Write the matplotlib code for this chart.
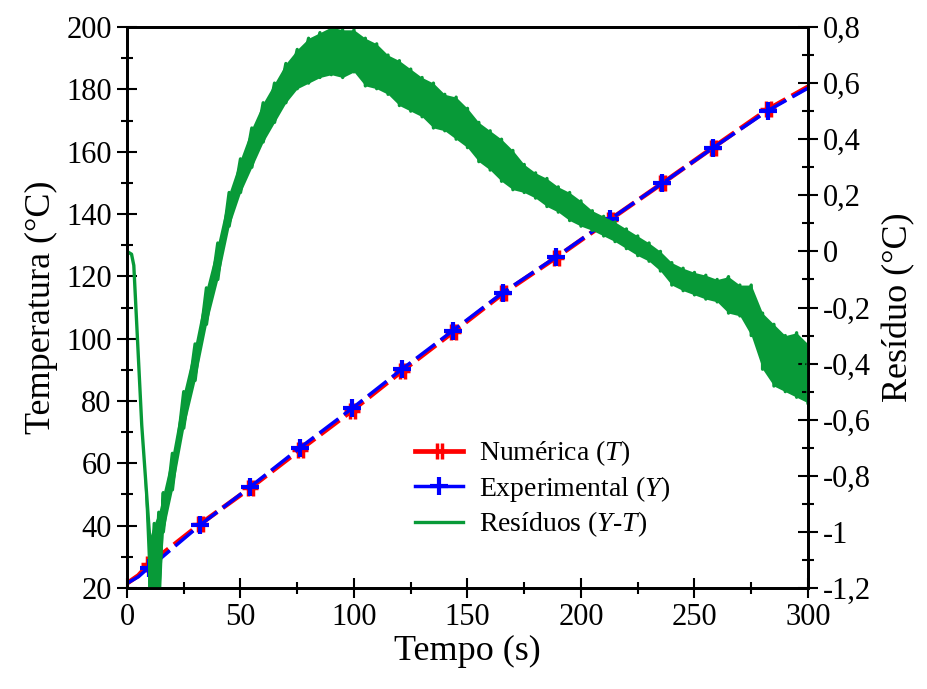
import matplotlib.pyplot as plt
from matplotlib.path import Path
from matplotlib.lines import Line2D
from matplotlib.ticker import MultipleLocator, FuncFormatter

plt.rcParams['font.family'] = ['Liberation Serif', 'DejaVu Serif']
plt.rcParams['mathtext.fontset'] = 'custom'
plt.rcParams['mathtext.rm'] = 'Liberation Serif'
plt.rcParams['mathtext.it'] = 'Liberation Serif:italic'
plt.rcParams['lines.scale_dashes'] = False

# temperaturas (curva experimental e numerica)
tempo = [0, 5, 9.5, 15, 20, 32.2, 54.2, 76.2, 99.1, 121.1, 143.6, 165.6,
         189, 212.8, 235.7, 258.1, 282.4, 300]
experimental = [21.5, 23.6, 26.5, 29.6, 32.7, 40.2, 52.4, 65.0, 77.6, 90.2,
                102.6, 114.8, 126.2, 138.3, 149.8, 161.2, 173.2, 180.4]
numerica = [21.5, 24.0, 27.6, 30.7, 33.5, 40.5, 52.05, 64.35, 76.9, 89.6,
            102.1, 114.5, 126.0, 138.2, 149.8, 161.3, 173.6, 180.8]
marcadores = [2, 5, 6, 7, 8, 9, 10, 11, 12, 13, 14, 15, 16]

# residuos Y-T: limites superior / inferior da faixa de ruido
t_res = [0, 2, 3, 6.5, 10, 12, 14, 16, 20, 25, 30, 35, 40, 45, 50, 55, 60,
         65, 70, 75, 80, 85, 90, 95, 100, 105, 110, 115, 120, 125, 130, 135,
         140, 145, 150, 155, 160, 165, 170, 175, 180, 185, 190, 195, 200, 205,
         210, 215, 220, 225, 230, 235, 240, 245, 250, 255, 260, 265, 270, 275,
         280, 285, 290, 295, 300]
res_sup = [0, -0.01, -0.05, -0.62, -1.02, -0.97, -0.93, -0.86, -0.72, -0.50,
           -0.33, -0.13, 0.03, 0.21, 0.33, 0.44, 0.53, 0.60, 0.67, 0.72,
           0.76, 0.78, 0.80, 0.79, 0.79, 0.76, 0.74, 0.70, 0.68, 0.65, 0.62,
           0.60, 0.56, 0.55, 0.51, 0.46, 0.43, 0.40, 0.36, 0.31, 0.28, 0.26,
           0.23, 0.21, 0.18, 0.145, 0.125, 0.105, 0.08, 0.055, 0.03, 0.0,
           -0.04, -0.06, -0.075, -0.085, -0.10, -0.09, -0.12, -0.12, -0.22,
           -0.26, -0.30, -0.29, -0.33]
res_inf = [0, -0.01, -0.05, -0.62, -1.30, -1.30, -1.28, -1.00, -0.85, -0.63,
           -0.46, -0.26, -0.10, 0.09, 0.21, 0.30, 0.39, 0.46, 0.53, 0.58,
           0.60, 0.62, 0.63, 0.62, 0.64, 0.59, 0.58, 0.56, 0.52, 0.50, 0.48,
           0.44, 0.43, 0.40, 0.37, 0.32, 0.29, 0.25, 0.22, 0.21, 0.19, 0.16,
           0.14, 0.11, 0.09, 0.075, 0.055, 0.035, 0.01, -0.015, -0.035, -0.07,
           -0.12, -0.14, -0.155, -0.17, -0.18, -0.22, -0.23, -0.30, -0.42,
           -0.48, -0.50, -0.52, -0.54]

VERDE = '#089a38'

# marcador "duas barras" da curva numerica
marc_num = Path([(-1, 0), (1, 0), (-0.3, -1), (-0.3, 1), (0.3, -1), (0.3, 1)],
                [Path.MOVETO, Path.LINETO, Path.MOVETO, Path.LINETO,
                 Path.MOVETO, Path.LINETO])

fig = plt.figure(figsize=(9.27, 6.89), dpi=100)
ax = fig.add_axes([0.137, 0.1466, 0.7346, 0.8142])
ax2 = ax.twinx()

ax.plot(tempo, numerica, color='red', lw=3.4, dashes=(17, 5),
        marker=marc_num, markevery=marcadores, ms=12, mew=2.5)
ax.plot(tempo, experimental, color='blue', lw=2.5, dashes=(17, 5),
        marker='+', markevery=marcadores, ms=13, mew=3)

# linha do residuo alternando entre topo e fundo da faixa
xs, ys = [], []
for t, s, i in zip(t_res, res_sup, res_inf):
    xs += [t, t]
    ys += [s, i]
ax2.fill_between(t_res, res_inf, res_sup, color=VERDE, lw=0)
ax2.plot(xs, ys, color=VERDE, lw=2.4)

ax.set_xlim(0, 300)
ax.set_ylim(20, 200)
ax2.set_ylim(-1.2, 0.8)

ax.xaxis.set_major_locator(MultipleLocator(50))
ax.xaxis.set_minor_locator(MultipleLocator(25))
ax.yaxis.set_major_locator(MultipleLocator(20))
ax.yaxis.set_minor_locator(MultipleLocator(10))
ax2.yaxis.set_major_locator(MultipleLocator(0.2))
ax2.yaxis.set_minor_locator(MultipleLocator(0.1))


def virgula(v, pos):
    return ('%g' % round(v, 1)).replace('.', ',')


ax2.yaxis.set_major_formatter(FuncFormatter(virgula))

for a in (ax, ax2):
    a.tick_params(which='major', direction='inout', length=15, width=1.5,
                  labelsize=22)
    a.tick_params(which='minor', direction='inout', length=8, width=1.5)
    for sp in a.spines.values():
        sp.set_linewidth(2)

ax.set_xlabel('Tempo (s)', fontsize=26, labelpad=2)
ax.set_ylabel('Temperatura (°C)', fontsize=26, labelpad=6)
ax2.set_ylabel('Resíduo (°C)', fontsize=26, labelpad=8)

# legenda com linhas continuas
h1 = Line2D([], [], color='red', lw=3.4, marker=marc_num, ms=12, mew=2.5)
h2 = Line2D([], [], color='blue', lw=2.5, marker='+', ms=13, mew=3)
h3 = Line2D([], [], color=VERDE, lw=2.4)
ax2.legend([h1, h2, h3],
           ['Numérica ($T$)', 'Experimental ($Y$)', 'Resíduos ($Y$-$T$)'],
           loc='upper left', bbox_to_anchor=(0.386, 0.311), frameon=False,
           fontsize=20, handlelength=1.75, handletextpad=0.55,
           labelspacing=0.2)

fig.savefig('out.png', dpi=100)
